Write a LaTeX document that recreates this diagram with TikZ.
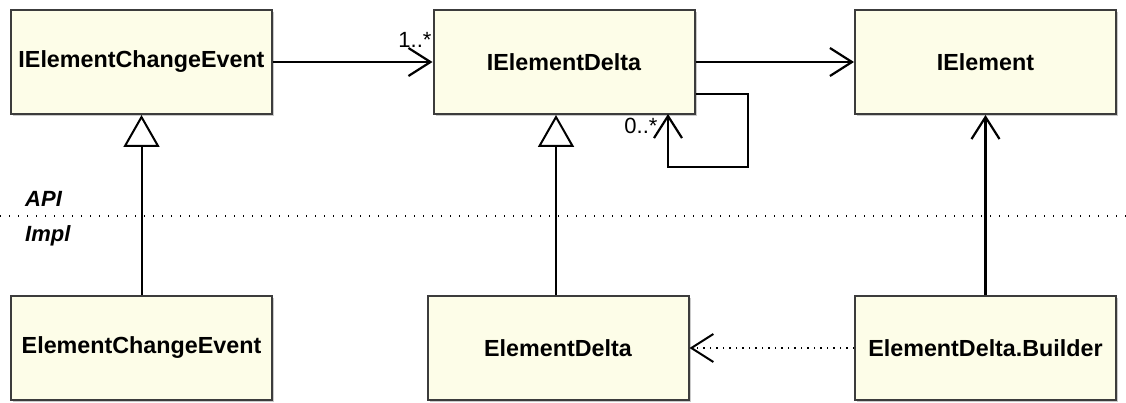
\documentclass[tikz,border=0pt]{standalone}
\usepackage{fontspec}
\setmainfont{Liberation Sans}
\usetikzlibrary{arrows.meta,shadows}
\definecolor{classfill}{RGB}{253,253,232}
\definecolor{classedge}{RGB}{60,60,60}
\tikzset{
  classbox/.style={draw=classedge, line width=2pt, fill=classfill,
    minimum width=261pt, minimum height=104pt, inner sep=0pt,
    font=\fontsize{23.3}{27}\selectfont\bfseries,
    drop shadow={shadow xshift=2pt, shadow yshift=-2pt, opacity=0.35, fill=black!60}},
  assoc/.style={line width=2.2pt, -{Straight Barb[length=22pt, width=28pt, line width=2.2pt]}},
  realize/.style={line width=2pt, -{Triangle[open, length=32pt, width=36pt, line width=2pt, fill=white]}},
  depend/.style={line width=2pt, dash pattern=on 1.5pt off 5pt,
    -{Straight Barb[length=22pt, width=28pt, line width=2pt, sep=0pt]}},
  mult/.style={font=\fontsize{22}{25}\selectfont, inner sep=0pt},
  layer/.style={font=\fontsize{22}{26}\selectfont\bfseries\itshape, anchor=west, inner sep=0pt},
}
\begin{document}
\begin{tikzpicture}[x=1pt, y=-1pt]
  \useasboundingbox (0,0) rectangle (1126,403);

  % API / Impl separator
  \draw[line width=1.4pt, dash pattern=on 1.4pt off 7.6pt] (0,216) -- (1126,216);
  \node[layer] (api) at (25,199) {API};
  \node[layer] (impl) at (25,236) {Impl};

  % API interfaces
  \node[classbox] (iece) at (141.5,62) {IElementChangeEvent};
  \node[classbox] (ied)  at (564,62)   {IElementDelta};
  \node[classbox] (ie)   at (985.5,62) {IElement};

  % Implementation classes
  \node[classbox] (ece)  at (141.5,348) {ElementChangeEvent};
  \node[classbox] (ed)   at (558,348)   {ElementDelta};
  \node[classbox] (edb)  at (985.5,348) {ElementDelta.Builder};

  % Associations
  \draw[assoc] (iece.east) -- (ied.west);
  \node[mult] (m1) at (415,40) {1..*};
  \draw[assoc] (ied.east) -- (ie.west);

  % Self association of IElementDelta
  \coordinate (loopa) at (ied.east |- 0,94);
  \coordinate (loopb) at (748,94);
  \coordinate (loopc) at (748,167);
  \coordinate (loopd) at (668,167);
  \coordinate (loope) at (668,114);
  \draw[assoc, line join=miter] (loopa) -- (loopb) -- (loopc) -- (loopd) -- (loope);
  \node[mult] (m0) at (641,126) {0..*};

  % Realizations
  \draw[realize] (ece.north) -- (iece.south);
  \draw[realize] (ed.north -| 556,0) -- (ied.south -| 556,0);

  % Builder uses IElement and builds ElementDelta
  \draw[assoc] (edb.north) -- (ie.south);
  \draw[depend] (edb.west) -- (ed.east);
\end{tikzpicture}
\end{document}
